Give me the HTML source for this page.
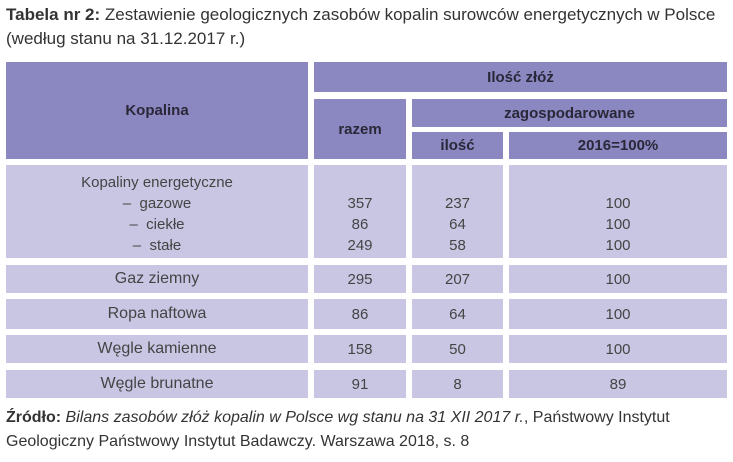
<!DOCTYPE html>
<html><head><meta charset="utf-8"><style>
body{margin:0;width:733px;height:462px;background:#fff;font-family:"Liberation Sans",sans-serif;color:#333;position:relative;overflow:hidden}
.c{position:absolute;display:flex;align-items:center;justify-content:center;text-align:center;box-sizing:border-box}
.h{background:#8b87c1;color:#2a2838;font-weight:bold;font-size:15px}
.b{background:#c9c6e4;color:#444;font-size:15px}
.t{position:absolute;left:6px;font-size:17px;color:#333;white-space:nowrap}
</style></head><body>
<div class="t" style="top:5px"><b>Tabela nr 2:</b> Zestawienie geologicznych zasobów kopalin surowców energetycznych w Polsce</div>
<div class="t" style="top:29px">(według stanu na 31.12.2017 r.)</div>

<div class="c h" style="left:6px;top:62px;width:302px;height:97px">Kopalina</div>
<div class="c h" style="left:314px;top:62px;width:413px;height:30px">Ilość złóż</div>
<div class="c h" style="left:314px;top:99px;width:92px;height:60px">razem</div>
<div class="c h" style="left:412px;top:99px;width:315px;height:28px">zagospodarowane</div>
<div class="c h" style="left:412px;top:132px;width:91px;height:27px">ilość</div>
<div class="c h" style="left:509px;top:132px;width:218px;height:27px">2016=100%</div>

<div class="c b" style="left:6px;top:165px;width:302px;height:93px;line-height:21px;padding-top:4px">Kopaliny energetyczne<br>–&nbsp; gazowe<br>–&nbsp; ciekłe<br>–&nbsp; stałe</div>
<div class="c b" style="left:314px;top:165px;width:92px;height:93px;line-height:21px;padding-top:25px">357<br>86<br>249</div>
<div class="c b" style="left:412px;top:165px;width:91px;height:93px;line-height:21px;padding-top:25px">237<br>64<br>58</div>
<div class="c b" style="left:509px;top:165px;width:218px;height:93px;line-height:21px;padding-top:25px">100<br>100<br>100</div>

<div class="c b" style="left:6px;top:265px;width:302px;height:28px;font-size:16px">Gaz ziemny</div>
<div class="c b" style="left:314px;top:265px;width:92px;height:28px">295</div>
<div class="c b" style="left:412px;top:265px;width:91px;height:28px">207</div>
<div class="c b" style="left:509px;top:265px;width:218px;height:28px">100</div>

<div class="c b" style="left:6px;top:299px;width:302px;height:30px;font-size:16px">Ropa naftowa</div>
<div class="c b" style="left:314px;top:299px;width:92px;height:30px">86</div>
<div class="c b" style="left:412px;top:299px;width:91px;height:30px">64</div>
<div class="c b" style="left:509px;top:299px;width:218px;height:30px">100</div>

<div class="c b" style="left:6px;top:335px;width:302px;height:28px;font-size:16px">Węgle kamienne</div>
<div class="c b" style="left:314px;top:335px;width:92px;height:28px">158</div>
<div class="c b" style="left:412px;top:335px;width:91px;height:28px">50</div>
<div class="c b" style="left:509px;top:335px;width:218px;height:28px">100</div>

<div class="c b" style="left:6px;top:370px;width:302px;height:28px;font-size:16px">Węgle brunatne</div>
<div class="c b" style="left:314px;top:370px;width:92px;height:28px">91</div>
<div class="c b" style="left:412px;top:370px;width:91px;height:28px">8</div>
<div class="c b" style="left:509px;top:370px;width:218px;height:28px">89</div>

<div class="t" style="top:409px;font-size:16px"><b>Źródło:</b> <i>Bilans zasobów złóż kopalin w Polsce wg stanu na 31 XII 2017 r.</i>, Państwowy Instytut</div>
<div class="t" style="top:433px;font-size:16px">Geologiczny Państwowy Instytut Badawczy. Warszawa 2018, s. 8</div>
</body></html>
